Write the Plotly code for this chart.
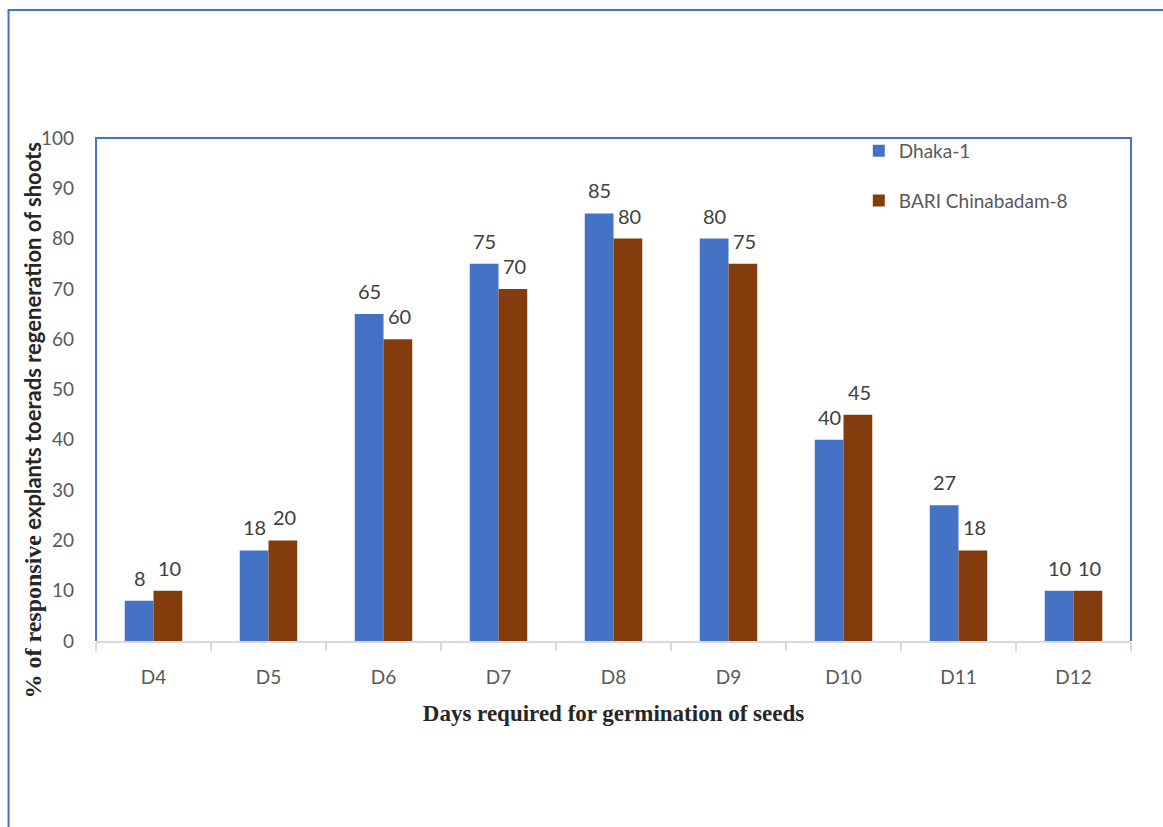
import plotly.graph_objects as go

categories = ["D4", "D5", "D6", "D7", "D8", "D9", "D10", "D11", "D12"]
dhaka = [8, 18, 65, 75, 85, 80, 40, 27, 10]
bari = [10, 20, 60, 70, 80, 75, 45, 18, 10]
series_names = ["Dhaka-1", "BARI Chinabadam-8"]
y_ticks = list(range(0, 101, 10))

BLUE = "#4472C4"
BROWN = "#843C0C"
TXT = "#595959"

fig = go.Figure()
fig.add_trace(go.Bar(x=categories, y=dhaka, name=series_names[0], marker=dict(color=BLUE, line=dict(width=0)), legendgroup="a"))
fig.add_trace(go.Bar(x=categories, y=bari, name=series_names[1], marker=dict(color=BROWN, line=dict(width=0)), legendgroup="b"))

ann = []
for c, v in zip(categories, dhaka):
    ann.append(dict(x=c, y=v, text=str(v), showarrow=False, xshift=-14, yshift=9, yanchor="bottom",
                    font=dict(family="Lato", size=20, color="#404040")))
for c, v in zip(categories, bari):
    ann.append(dict(x=c, y=v, text=str(v), showarrow=False, xshift=16, yshift=9, yanchor="bottom",
                    font=dict(family="Lato", size=20, color="#404040")))

ann.append(dict(xref="paper", yref="paper", x=-0.061, y=0.44, xanchor="center", yanchor="middle",
                textangle=-90, showarrow=False,
                text="<b><span style='font-family:Liberation Serif;font-size:24px'>% of responsive</span> explants toerads regeneration of shoots</b>",
                font=dict(family="Lato", size=22, color="#262626")))

fig.update_layout(
    width=1163, height=827,
    margin=dict(l=96, r=32, t=138, b=186),
    paper_bgcolor="white", plot_bgcolor="white",
    barmode="group", bargap=0.5, bargroupgap=0,
    annotations=ann,
    showlegend=True,
    legend=dict(x=0.737, y=1.012, xanchor="left", yanchor="top", bgcolor="rgba(0,0,0,0)",
                font=dict(family="Lato", size=19, color=TXT), tracegroupgap=22, itemwidth=30),
    xaxis=dict(type="category", showgrid=False, showline=True, linecolor="#D9D9D9", linewidth=2,
               ticks="outside", tickson="boundaries", ticklen=8, tickcolor="#D9D9D9", tickwidth=2,
               tickfont=dict(family="Lato", size=19, color=TXT), ticklabelstandoff=18,
               title=dict(text="<b>Days required for germination of seeds</b>",
                          font=dict(family="Liberation Serif", size=23, color="#262626"), standoff=18),
               mirror=False),
    yaxis=dict(range=[0, 100], tickvals=y_ticks, showgrid=False, zeroline=False, showline=False,
               tickfont=dict(family="Lato", size=19, color=TXT), ticks="", ticklabelstandoff=21),
    shapes=[
        dict(type="path", xref="paper", yref="paper", path="M 0,0 L 0,1 L 1,1 L 1,0",
             line=dict(color=BLUE, width=2), layer="above"),
        dict(type="rect", xref="paper", yref="paper", x0=-0.0845, x1=1.04, y0=-0.40, y1=1.2545,
             line=dict(color=BLUE, width=2)),
    ],
)

fig.write_html("out.html")
